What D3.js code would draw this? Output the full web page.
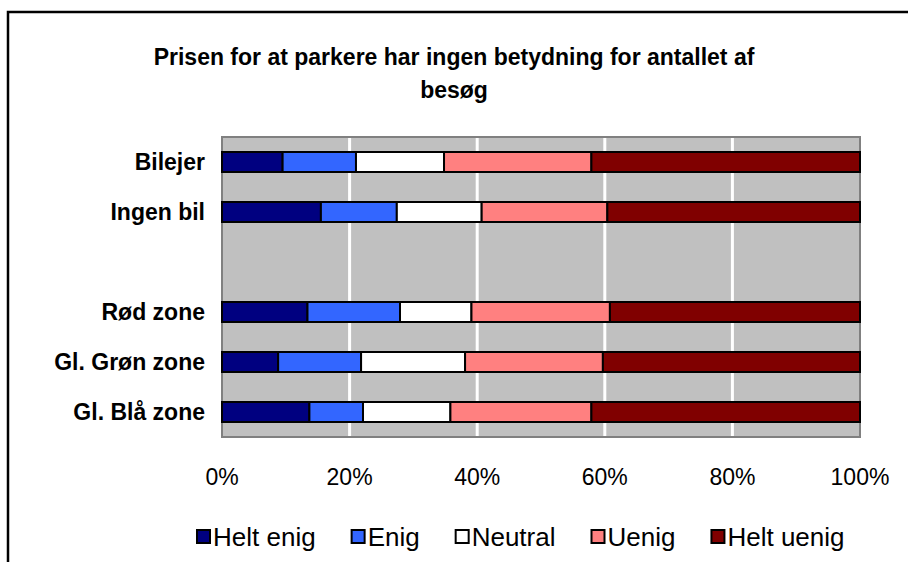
<!DOCTYPE html>
<html>
<head>
<meta charset="utf-8">
<script src="https://cdn.jsdelivr.net/npm/d3@7"></script>
<style>
  body { margin: 0; background: #fff; }
  svg { display: block; font-family: "Liberation Sans", Arial, sans-serif; }
</style>
</head>
<body>
<div id="chart"></div>
<script>
// data (percent of respondents)
const categories = ['Bilejer', 'Ingen bil', '', 'Rød zone', 'Gl. Grøn zone', 'Gl. Blå zone'];
const seriesNames = ['Helt enig', 'Enig', 'Neutral', 'Uenig', 'Helt uenig'];
const heltEnig  = [9.5, 15.5, null, 13.4, 8.8, 13.7];
const enig      = [11.5, 11.9, null, 14.5, 13.0, 8.4];
const neutral   = [13.8, 13.3, null, 11.2, 16.3, 13.7];
const uenig     = [23.1, 19.7, null, 21.7, 21.6, 22.1];
const heltUenig = [42.1, 39.6, null, 39.2, 40.3, 42.1];
const colors = ['#000080', '#3366FF', '#FFFFFF', '#FF8080', '#800000'];
const tickValues = [0, 20, 40, 60, 80, 100];
const titleLines = ['Prisen for at parkere har ingen betydning for antallet af', 'besøg'];

const width = 908, height = 562;
const plot = { left: 222, right: 860, top: 137, bottom: 437 };
const fontSize = 23;

const svg = d3.select('#chart').append('svg')
  .attr('width', width)
  .attr('height', height);

// outer chart frame (runs off the right/bottom edges)
svg.append('rect')
  .attr('x', 8).attr('y', 12)
  .attr('width', 960).attr('height', 640)
  .attr('fill', 'none')
  .attr('stroke', '#000')
  .attr('stroke-width', 2.5);

svg.append('g').selectAll('text')
  .data(titleLines)
  .join('text')
  .attr('x', 454)
  .attr('y', (d, i) => 65 + i * 33)
  .attr('text-anchor', 'middle')
  .attr('font-size', fontSize)
  .attr('font-weight', 'bold')
  .text(d => d);

const x = d3.scaleLinear().domain([0, 100]).range([plot.left, plot.right]);
const y = d3.scaleBand().domain(d3.range(categories.length))
  .range([plot.top, plot.bottom])
  .paddingInner(0.6).paddingOuter(0.3);

svg.append('rect')
  .attr('x', plot.left).attr('y', plot.top)
  .attr('width', plot.right - plot.left).attr('height', plot.bottom - plot.top)
  .attr('fill', '#C0C0C0')
  .attr('stroke', '#808080')
  .attr('stroke-width', 2);

svg.append('g').selectAll('line')
  .data(tickValues.slice(1, -1))
  .join('line')
  .attr('x1', d => x(d)).attr('x2', d => x(d))
  .attr('y1', plot.top + 1).attr('y2', plot.bottom - 1)
  .attr('stroke', '#fff')
  .attr('stroke-width', 3);

// stack the series
const rows = categories.map((c, i) => ({
  i, vals: [heltEnig[i], enig[i], neutral[i], uenig[i], heltUenig[i]]
})).filter(r => r.vals[0] != null);

const segs = [];
rows.forEach(r => {
  const total = d3.sum(r.vals);
  let acc = 0;
  r.vals.forEach((v, k) => {
    const p = v / total * 100;
    segs.push({ i: r.i, k, x0: acc, x1: acc + p });
    acc += p;
  });
});

svg.append('g').selectAll('rect')
  .data(segs)
  .join('rect')
  .attr('x', d => x(d.x0))
  .attr('y', d => y(d.i))
  .attr('width', d => x(d.x1) - x(d.x0))
  .attr('height', y.bandwidth())
  .attr('fill', d => colors[d.k])
  .attr('stroke', '#000')
  .attr('stroke-width', 2);

svg.append('g').selectAll('text')
  .data(categories.map((c, i) => ({ c, i })).filter(d => d.c))
  .join('text')
  .attr('x', 205)
  .attr('y', d => y(d.i) + y.bandwidth() / 2)
  .attr('dy', '0.35em')
  .attr('text-anchor', 'end')
  .attr('font-size', fontSize)
  .attr('font-weight', 'bold')
  .text(d => d.c);

svg.append('g').selectAll('text')
  .data(tickValues)
  .join('text')
  .attr('x', d => x(d))
  .attr('y', 485)
  .attr('text-anchor', 'middle')
  .attr('font-size', fontSize)
  .text(d => d + '%');

// legend
const legend = svg.append('g');
let lx = 197;
seriesNames.forEach((name, k) => {
  const g = legend.append('g').attr('transform', `translate(${lx},0)`);
  g.append('rect')
    .attr('x', 0).attr('y', 530)
    .attr('width', 13).attr('height', 13)
    .attr('fill', colors[k])
    .attr('stroke', '#000')
    .attr('stroke-width', 2);
  const t = g.append('text')
    .attr('x', 16).attr('y', 546)
    .attr('font-size', 26)
    .text(name);
  lx += 16 + t.node().getComputedTextLength() + 36;
});
</script>
</body>
</html>
